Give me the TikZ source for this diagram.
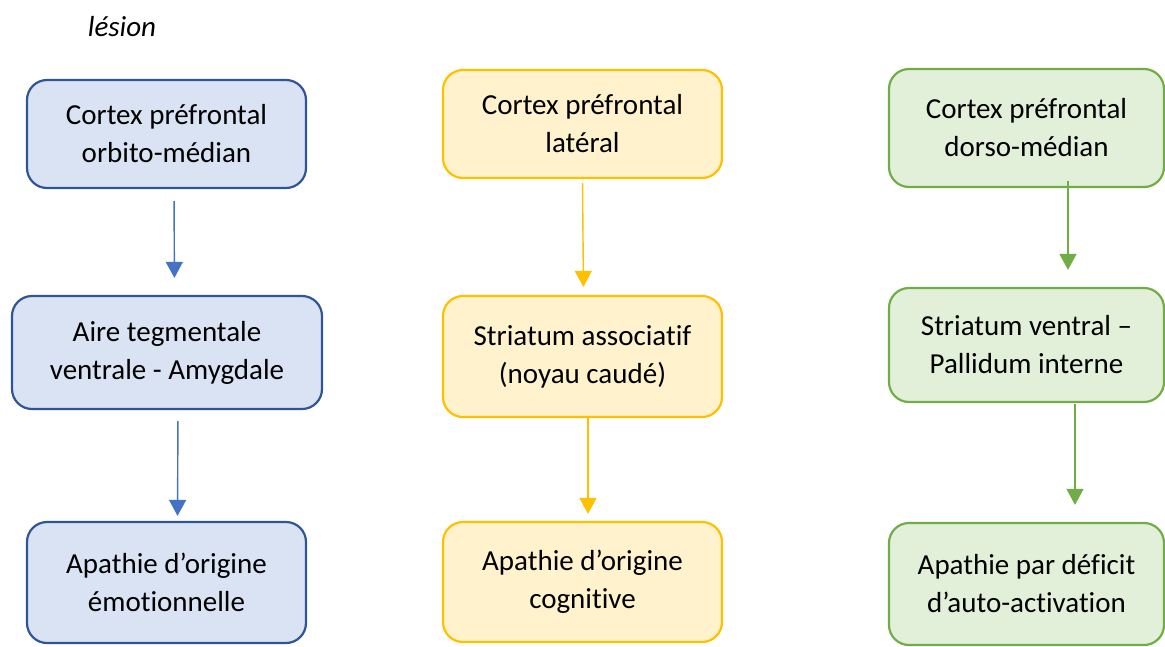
\documentclass[tikz,border=0pt]{standalone}
\usepackage{fontspec}
\setmainfont{Carlito}[Ligatures=NoCommon]
\usetikzlibrary{arrows.meta}

\definecolor{bluefill}{HTML}{DAE3F3}
\definecolor{blueline}{HTML}{2F5597}
\definecolor{bluearrow}{HTML}{4472C4}
\definecolor{yellowfill}{HTML}{FFF2CC}
\definecolor{yellowline}{HTML}{FFC000}
\definecolor{greenfill}{HTML}{E2F0D9}
\definecolor{greenline}{HTML}{70AD47}

\tikzset{
  box/.style={rounded corners=20pt, line width=2.2pt, inner sep=0pt,
    align=center, font=\fontsize{29}{38}\selectfont},
  bluebox/.style={box, draw=blueline, fill=bluefill},
  yellowbox/.style={box, draw=yellowline, fill=yellowfill},
  greenbox/.style={box, draw=greenline, fill=greenfill},
  link/.style={line width=1.4pt, -{Triangle[width=17pt,length=16pt]}},
}

% place a box by its pixel edges: left, top, right, bottom
\newcommand{\boxat}[7]{%
  \node[#1, minimum width={#5-#3}, minimum height={#6-#4}]
    (#2) at ({(#3+#5)/2},{(#4+#6)/2}) {#7};}

\begin{document}
\begin{tikzpicture}[x=1pt, y=-1pt]
  \useasboundingbox (0,0) rectangle (1165,646);
  \clip (0,0) rectangle (1165,646);

  \node[font=\fontsize{29}{38}\selectfont\itshape] (lesion) at (122,27) {lésion};

  % emotional pathway
  \boxat{bluebox}{b1}{27}{80}{306}{188}{Cortex préfrontal\\orbito-médian}
  \boxat{bluebox}{b2}{12}{296}{322}{409}{Aire tegmentale\\ventrale - Amygdale}
  \boxat{bluebox}{b3}{27}{522}{306}{643}{Apathie d’origine\\émotionnelle}

  % cognitive pathway
  \boxat{yellowbox}{y1}{443}{70}{722}{178}{Cortex préfrontal\\latéral}
  \boxat{yellowbox}{y2}{443}{296}{722}{417}{Striatum associatif\\(noyau caudé)}
  \boxat{yellowbox}{y3}{443}{522}{722}{642}{Apathie d’origine\\cognitive}

  % auto-activation pathway
  \boxat{greenbox}{g1}{889}{69}{1164}{187}{Cortex préfrontal\\dorso-médian}
  \boxat{greenbox}{g2}{889}{288}{1164}{402}{Striatum ventral –\\Pallidum interne}
  \boxat{greenbox}{g3}{889}{523}{1164}{645}{Apathie par déficit\\d’auto-activation}

  % connectors
  \draw[link, draw=bluearrow, fill=bluearrow, shorten <=12pt, shorten >=17pt]
    ([xshift=7.5pt]b1.south) -- ([xshift=7.5pt]b2.north);
  \draw[link, draw=bluearrow, fill=bluearrow, shorten <=11pt, shorten >=5pt]
    ([xshift=11pt]b2.south) -- ([xshift=11pt]b3.north);

  \draw[link, draw=yellowline, fill=yellowline, shorten <=4pt, shorten >=8pt]
    ([xshift=0pt]y1.south) -- ([xshift=1pt]y2.north);
  \draw[link, draw=yellowline, fill=yellowline, shorten <=0pt, shorten >=7pt]
    ([xshift=5.5pt]y2.south) -- ([xshift=5.5pt]y3.north);

  \draw[link, draw=greenline, fill=greenline, shorten <=-7pt, shorten >=17pt]
    ([xshift=41.5pt]g1.south) -- ([xshift=41.5pt]g2.north);
  \draw[link, draw=greenline, fill=greenline, shorten <=1pt, shorten >=17pt]
    ([xshift=48.5pt]g2.south) -- ([xshift=48.5pt]g3.north);
\end{tikzpicture}
\end{document}
